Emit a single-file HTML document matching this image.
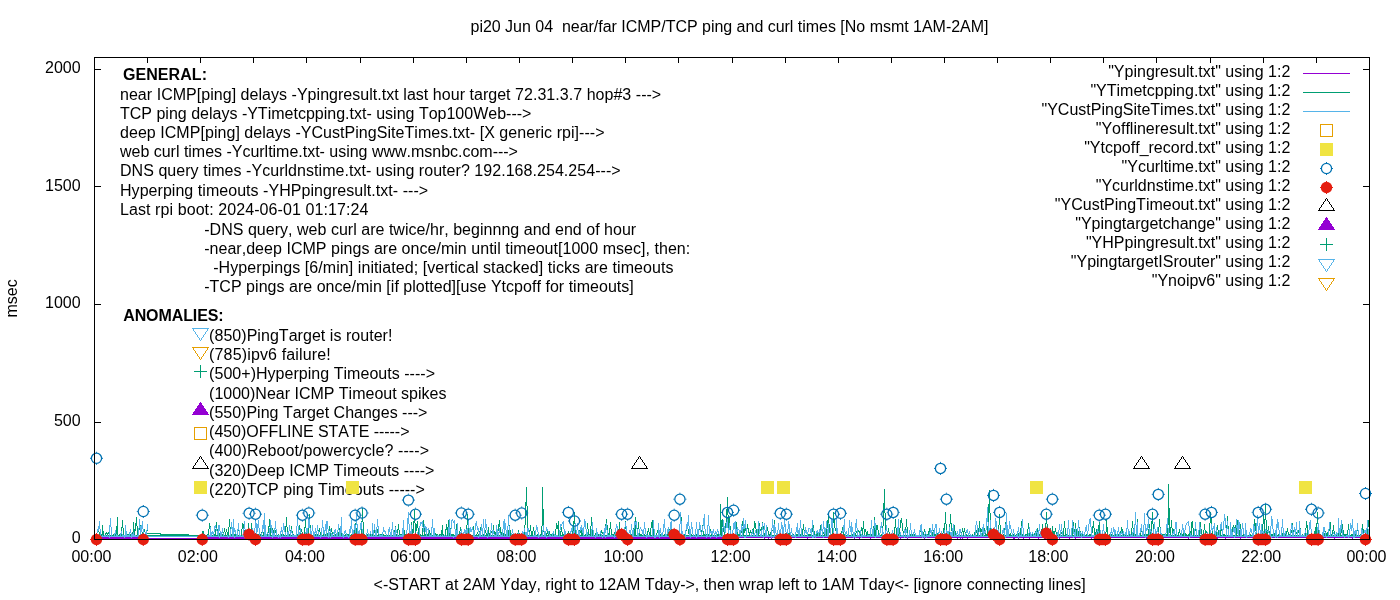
<!DOCTYPE html>
<html lang="en"><head><meta charset="utf-8"><title>pi20 Jun 04 near/far ICMP/TCP ping and curl times</title>
<style>html,body{margin:0;padding:0;background:#fff;}body{width:1400px;height:600px;overflow:hidden;}svg{display:block;}text{font-family:"Liberation Sans",Arial,sans-serif;font-size:16px;fill:#000;font-kerning:none;}.b{font-weight:bold;}.e{text-anchor:end;}.m{text-anchor:middle;}</style></head><body>
<svg width="1400" height="600" viewBox="0 0 1400 600">
<rect x="0" y="0" width="1400" height="600" fill="#ffffff"/>
<g fill="none" stroke-width="1" shape-rendering="crispEdges" stroke-linejoin="miter">
<path stroke="#9400D3" stroke-width="1" d="M95 537.5H148M201 537.5H1369M95 538.5H722M738 538.5h1M764 538.5h1M768 538.5h1M771 538.5h1M807 538.5h1M854 538.5h1M859 538.5h1M870 538.5h1M895 538.5h1M900 538.5h1M907 538.5h1M924 538.5h1M949 538.5h1M957 538.5h1M960 538.5h1M962 538.5h1M967 538.5h1M1004 538.5h1M1013 538.5h1M1014 538.5h1M1018 538.5h1M1023 538.5h1M1029 538.5h1M1038 538.5h1M1044 538.5h1M1045 538.5h1M1059 538.5h1M1069 538.5h1M1075 538.5h1M1091 538.5h1M1109 538.5h1M1146 538.5h1M1153 538.5h1M1160 538.5h1M1188 538.5h1M1206 538.5h1M1217 538.5h1M1225 538.5h1M1240 538.5h1M1262 538.5h1M1308 538.5h1M1322 538.5h1M1334 538.5h1M1352 538.5h1"/>
<path stroke="#009E73" transform="translate(.5 0)" d="M96 533v3M97 530v3M98 528v4M99 532v4M100 534v2M101 534v2M102 525v11M103 531v5M105 533v3M106 532v2M107 533v3M108 532v2M109 534v2M111 534v2M113 534v2M114 534v2M115 534v2M116 526v10M117 517v19M119 534v2M120 534v2M121 527v9M122 520v8M123 528v8M126 534v2M127 534v2M128 534v2M129 534v2M130 534v2M131 534v2M132 532v4M133 522v10M134 529v7M135 523v8M136 517v9M137 526v10M138 530v6M139 524v6M140 525v11M141 534v2M142 532v2M143 532v4M144 529v3M145 532v4M146 531v5M147 528v3M160 533v3M161 534v2M162 534v2M163 534v2M164 534v2M165 534v2M166 534v2M167 534v2M168 534v2M169 534v2M170 534v2M171 534v2M172 534v2M173 534v2M174 534v2M175 534v2M176 534v2M177 534v2M178 534v2M179 534v2M180 534v2M181 534v2M182 534v2M183 534v2M184 534v2M185 534v2M186 534v2M187 534v2M188 534v2M202 531v5M203 531v3M204 534v2M207 534v2M208 529v7M209 523v6M210 526v10M211 534v2M213 534v2M214 534v2M215 529v7M216 522v7M217 529v7M219 533v3M220 532v2M221 534v2M222 534v2M223 532v4M224 528v4M225 532v4M226 529v3M227 532v4M228 527v9M229 519v8M230 527v9M231 534v2M232 534v2M233 534v2M234 534v2M235 534v2M237 531v5M238 527v4M239 531v5M241 529v7M242 523v6M243 524v6M244 530v6M245 534v2M246 534v2M247 529v7M248 523v7M249 530v6M250 529v7M251 523v7M252 530v6M253 534v2M254 534v2M255 533v3M256 531v5M257 534v2M258 534v2M260 534v2M261 532v4M262 528v4M263 532v4M264 534v2M265 534v2M267 533v3M268 526v7M269 519v8M270 527v9M272 528v8M273 530v3M274 532v4M275 530v3M276 533v3M278 534v2M280 534v2M281 534v2M282 534v2M283 534v2M285 526v10M286 517v10M287 527v9M288 534v2M289 534v2M290 530v6M291 526v5M292 531v5M293 534v2M296 534v2M297 534v2M298 530v6M299 525v5M300 530v6M301 529v3M302 532v4M303 534v2M304 527v9M305 520v8M306 528v8M307 530v3M308 524v12M309 514v11M310 525v11M315 534v2M317 534v2M318 530v6M319 528v4M320 532v4M321 534v2M323 534v2M325 534v2M326 530v6M327 533v3M328 529v4M329 526v5M330 531v5M331 528v4M332 532v4M334 531v5M335 534v2M336 534v2M337 534v2M338 532v4M339 528v4M340 529v3M341 532v4M342 534v2M345 534v2M347 534v2M348 534v2M349 534v2M351 534v2M352 533v3M353 530v3M354 529v7M355 523v6M356 528v6M357 534v2M358 534v2M360 534v2M361 521v15M362 508v14M363 522v14M364 534v2M366 534v2M367 534v2M368 534v2M370 534v2M371 534v2M372 532v4M373 533v3M374 530v3M375 533v3M376 532v4M377 529v4M378 533v3M380 534v2M381 534v2M383 534v2M386 534v2M388 534v2M390 534v2M391 534v2M393 534v2M394 530v6M395 526v10M396 534v2M397 529v7M398 524v6M399 530v6M400 534v2M401 534v2M402 534v2M403 524v12M404 530v6M405 534v2M407 534v2M408 534v2M409 534v2M410 534v2M411 522v14M412 529v7M413 521v12M414 510v13M415 523v13M416 524v7M417 521v7M418 528v8M419 534v2M420 534v2M422 528v8M423 520v8M424 528v8M425 534v2M426 534v2M427 534v2M428 532v4M429 530v3M430 533v3M431 534v2M433 531v5M434 528v5M435 533v3M436 534v2M437 534v2M439 534v2M440 534v2M441 530v6M442 525v11M443 534v2M445 529v7M446 524v6M447 527v9M448 520v8M449 520v16M450 528v8M451 534v2M452 534v2M453 534v2M455 530v6M456 524v6M457 530v6M458 534v2M459 531v5M460 527v4M461 531v5M462 534v2M463 534v2M464 534v2M465 534v2M466 525v11M467 514v11M468 525v11M470 534v2M473 526v10M474 531v5M476 534v2M477 532v2M478 534v2M479 531v5M480 527v9M483 534v2M484 532v4M485 530v3M486 533v3M487 531v5M488 527v9M489 533v3M491 531v2M492 530v6M493 525v6M494 531v5M495 532v4M496 530v6M497 531v5M498 524v7M499 520v7M500 527v7M501 532v4M502 529v4M503 533v3M504 534v2M505 534v2M506 532v4M507 528v4M508 530v6M509 525v5M510 530v6M511 534v2M512 534v2M513 534v2M515 534v2M517 533v3M518 530v3M519 533v3M520 534v2M521 534v2M522 534v2M523 534v2M524 525v11M525 502v23M526 487v19M527 506v30M528 529v3M529 530v6M530 525v6M531 531v5M532 531v5M533 527v4M534 531v5M537 534v2M538 534v2M540 534v2M541 526v10M542 487v39M543 509v23M544 532v4M545 534v2M546 533v3M547 531v3M548 533v3M549 531v3M550 534v2M551 534v2M553 534v2M555 529v7M556 523v6M557 525v4M558 521v15M560 531v5M561 527v5M562 532v4M563 534v2M564 534v2M565 534v2M566 534v2M567 533v3M568 531v2M569 533v3M570 534v2M572 531v5M573 521v10M574 512v12M575 524v12M576 534v2M577 534v2M578 532v4M579 530v2M580 530v3M581 525v11M582 531v5M585 534v2M586 529v7M587 523v6M588 529v7M589 534v2M590 526v10M591 517v9M592 526v10M595 533v3M596 531v5M597 534v2M598 534v2M599 534v2M600 533v3M601 530v3M602 532v2M603 534v2M604 531v5M605 524v7M606 519v6M607 525v8M608 533v3M609 528v8M610 522v7M611 529v7M612 534v2M613 534v2M614 532v4M615 530v3M616 532v4M617 530v3M618 529v7M619 522v14M621 534v2M624 528v8M625 521v8M626 529v7M627 534v2M628 534v2M630 534v2M631 534v2M632 532v4M633 528v4M634 526v10M635 517v19M637 528v8M638 522v7M639 529v7M640 534v2M641 534v2M644 534v2M646 534v2M647 531v5M648 528v4M649 532v4M650 528v8M651 522v6M652 520v8M653 528v8M654 534v2M656 533v3M657 530v3M658 525v11M659 530v6M660 534v2M661 534v2M664 534v2M665 534v2M666 534v2M667 534v2M668 532v4M669 529v3M670 530v6M671 525v5M672 530v6M674 534v2M675 532v2M676 534v2M677 534v2M678 531v5M679 524v7M680 518v6M681 517v19M684 534v2M685 531v5M686 526v5M687 524v5M688 529v5M689 534v2M691 534v2M693 534v2M695 534v2M696 534v2M697 533v3M698 530v3M699 527v3M700 525v5M701 530v6M702 525v6M703 531v5M704 534v2M705 534v2M706 534v2M707 534v2M708 534v2M709 532v4M710 529v3M711 532v4M712 533v3M713 530v3M714 533v3M717 534v2M718 534v2M720 504v32M721 520v16M722 519v8M723 524v8M724 530v6M725 523v7M726 509v14M727 497v18M728 515v21M729 517v9M730 526v10M731 534v2M732 534v2M733 534v2M735 529v7M736 522v7M737 529v7M738 534v2M739 534v2M740 533v3M741 526v7M742 521v5M743 525v11M744 528v5M745 526v5M746 529v7M747 524v5M748 528v5M749 532v4M750 530v3M751 532v4M752 529v4M753 528v8M754 521v7M755 523v6M756 529v5M757 534v2M758 529v7M759 523v6M760 529v2M761 527v5M762 522v5M763 526v7M764 533v3M766 531v5M767 527v4M768 531v5M769 534v2M770 532v4M771 529v3M773 525v5M774 520v16M777 534v2M778 534v2M779 534v2M780 534v2M781 534v2M782 529v7M783 531v3M784 534v2M785 533v3M786 532v2M787 534v2M788 533v3M789 531v5M792 534v2M793 534v2M795 534v2M796 534v2M797 534v2M798 534v2M799 534v2M800 534v2M802 529v7M803 524v6M804 530v6M808 534v2M809 534v2M810 534v2M811 532v4M812 528v4M813 525v11M814 531v5M815 534v2M816 534v2M817 533v3M818 532v2M819 531v5M820 525v6M821 524v6M822 530v6M823 532v2M824 534v2M826 528v8M827 520v8M828 515v9M829 524v9M830 533v3M831 534v2M832 523v13M833 512v11M834 519v9M835 528v3M836 527v9M838 534v2M841 531v5M842 527v5M843 532v4M844 534v2M845 534v2M847 534v2M848 534v2M851 532v4M852 534v2M853 534v2M854 534v2M855 533v3M856 531v2M857 532v4M858 530v2M859 531v5M860 531v5M861 527v4M862 528v8M863 521v8M864 529v7M865 529v3M866 532v4M867 531v5M868 534v2M869 534v2M871 534v2M873 526v10M874 517v19M875 530v6M876 525v5M877 525v5M878 530v6M879 534v2M881 534v2M882 526v10M883 503v23M884 489v24M885 513v23M887 531v5M888 528v4M889 532v4M890 534v2M891 534v2M892 534v2M893 534v2M894 527v9M895 519v9M896 528v8M897 527v4M898 531v5M899 528v8M900 520v8M901 518v5M902 523v8M903 531v5M904 530v3M905 527v9M906 519v8M907 527v9M910 534v2M911 534v2M912 534v2M913 534v2M914 534v2M915 534v2M919 532v4M920 528v4M921 527v9M923 532v4M924 529v3M925 532v4M927 534v2M928 531v5M929 528v8M930 530v3M931 533v3M932 532v4M933 530v3M934 533v3M935 534v2M936 531v5M937 533v3M938 534v2M941 534v2M942 533v3M943 528v5M944 523v13M945 512v12M946 524v12M947 531v3M948 534v2M949 524v12M950 514v10M951 523v8M952 529v7M953 530v6M954 525v6M955 531v5M958 534v2M959 534v2M961 532v4M962 528v4M963 531v5M964 528v4M965 532v4M966 534v2M968 534v2M972 534v2M974 532v4M975 529v7M976 530v3M977 533v3M978 528v8M979 521v7M980 528v8M981 529v3M982 531v5M983 528v8M984 528v4M985 532v4M986 534v2M987 526v10M988 504v22M989 490v23M990 513v23M991 532v4M992 534v2M993 534v2M996 534v2M997 534v2M998 525v11M999 514v11M1000 525v11M1001 534v2M1003 534v2M1004 528v8M1005 522v7M1006 529v7M1007 534v2M1008 534v2M1009 534v2M1010 533v3M1011 531v2M1012 533v3M1013 534v2M1014 534v2M1016 534v2M1017 534v2M1018 533v3M1019 532v2M1020 528v8M1021 521v15M1022 534v2M1023 534v2M1025 534v2M1026 534v2M1027 529v7M1028 523v6M1029 528v8M1030 532v4M1031 534v2M1032 534v2M1034 533v3M1035 531v3M1036 532v4M1037 528v8M1039 534v2M1041 529v7M1042 524v6M1043 530v6M1044 530v6M1045 523v13M1046 512v12M1047 524v12M1048 534v2M1049 531v5M1050 528v4M1051 532v4M1052 526v10M1053 531v5M1054 531v5M1055 528v4M1056 532v4M1059 534v2M1060 534v2M1061 532v2M1062 534v2M1063 528v8M1064 521v7M1065 528v8M1066 534v2M1067 534v2M1069 534v2M1071 534v2M1072 528v8M1073 522v7M1074 529v7M1075 523v13M1076 529v7M1077 534v2M1078 531v5M1079 527v4M1080 531v5M1081 534v2M1082 534v2M1083 534v2M1086 534v2M1089 534v2M1090 534v2M1091 533v3M1092 526v7M1093 521v7M1094 528v8M1095 532v4M1096 529v3M1097 531v5M1098 525v6M1099 522v14M1100 534v2M1101 534v2M1102 534v2M1103 534v2M1104 534v2M1105 532v4M1106 519v13M1107 527v9M1109 534v2M1111 534v2M1112 534v2M1114 534v2M1115 534v2M1116 534v2M1117 534v2M1118 534v2M1119 534v2M1120 531v5M1121 527v4M1122 529v5M1123 534v2M1124 534v2M1125 534v2M1126 534v2M1129 534v2M1130 534v2M1131 528v8M1132 521v7M1133 528v8M1134 534v2M1135 534v2M1136 527v9M1137 519v17M1139 534v2M1140 531v5M1141 527v5M1142 532v4M1144 534v2M1145 534v2M1146 534v2M1147 534v2M1148 529v7M1149 524v6M1150 530v6M1151 521v11M1152 512v12M1153 524v12M1154 534v2M1155 534v2M1156 534v2M1157 534v2M1158 527v9M1159 519v8M1160 527v9M1162 534v2M1163 534v2M1164 534v2M1165 534v2M1166 534v2M1167 525v11M1168 484v41M1169 508v25M1170 527v9M1171 520v8M1172 528v8M1173 529v3M1174 532v4M1175 534v2M1178 532v4M1179 529v4M1180 533v3M1182 534v2M1183 533v3M1184 530v3M1185 533v3M1186 534v2M1188 534v2M1189 533v3M1190 531v3M1191 522v14M1192 521v7M1193 528v8M1194 531v5M1195 527v4M1196 531v5M1198 534v2M1199 529v7M1200 522v7M1201 529v7M1202 534v2M1203 530v6M1204 524v6M1205 530v6M1206 531v2M1207 533v3M1208 534v2M1209 523v13M1210 512v11M1211 517v11M1212 528v8M1214 534v2M1215 534v2M1216 530v6M1217 525v5M1218 530v6M1219 534v2M1220 530v6M1221 525v6M1222 531v5M1223 534v2M1224 534v2M1226 525v11M1227 516v10M1228 526v10M1231 532v4M1232 527v5M1233 525v3M1234 527v3M1235 525v5M1236 527v9M1237 520v8M1238 528v8M1239 530v6M1240 524v6M1241 530v6M1243 534v2M1245 534v2M1246 534v2M1250 534v2M1253 527v9M1254 519v8M1255 523v8M1256 531v5M1257 534v2M1258 534v2M1260 534v2M1261 534v2M1262 524v12M1263 513v11M1264 519v17M1265 504v16M1266 520v16M1267 530v6M1268 526v5M1269 531v5M1271 534v2M1272 534v2M1273 534v2M1274 533v3M1275 531v2M1276 532v4M1278 534v2M1279 534v2M1282 533v3M1283 531v3M1284 534v2M1285 534v2M1286 531v5M1287 528v4M1288 532v4M1289 534v2M1290 533v3M1291 530v3M1292 523v7M1293 530v6M1295 534v2M1296 532v2M1297 532v4M1298 530v3M1299 521v15M1300 528v8M1302 534v2M1305 528v8M1306 521v7M1307 525v11M1308 531v5M1309 534v2M1310 534v2M1311 534v2M1312 534v2M1313 534v2M1314 531v5M1315 527v9M1316 523v13M1317 512v12M1318 524v12M1319 534v2M1320 534v2M1322 534v2M1323 530v6M1324 533v3M1325 531v2M1326 533v3M1327 532v4M1328 529v3M1329 526v5M1330 522v14M1331 534v2M1332 530v6M1333 525v6M1334 531v5M1335 534v2M1337 534v2M1338 533v3M1339 531v3M1340 533v3M1341 527v6M1342 524v6M1343 530v6M1344 534v2M1345 534v2M1346 534v2M1347 530v6M1348 524v6M1349 530v6M1351 534v2M1352 534v2M1354 534v2M1355 534v2M1356 531v5M1357 527v4M1358 531v5M1360 534v2M1361 530v6M1362 524v6M1363 529v5M1364 534v2M1365 534v2M1366 534v2M1367 527v9M1368 520v7M1369 527v6"/>
<path stroke="#009E73" transform="translate(0 .5)" d="M94 534h2M97 535h2M104 535h1M106 535h1M108 535h1M110 535h1M112 535h1M118 535h1M122 535h1M124 535h2M133 535h1M135 535h2M139 535h1M142 535h1M144 535h1M147 535h13M189 535h13M203 535h1M205 535h2M209 535h1M212 535h1M216 535h1M218 535h1M220 535h1M224 535h1M226 535h1M229 535h1M236 535h1M238 535h1M240 535h1M242 535h2M248 535h1M251 535h1M259 535h1M262 535h1M266 535h1M268 535h2M271 535h1M273 535h1M275 535h1M277 535h1M279 535h1M284 535h1M286 535h1M291 535h1M294 535h2M299 535h1M301 535h1M305 535h1M307 535h1M309 535h1M311 535h4M316 535h1M319 535h1M322 535h1M324 535h1M328 535h2M331 535h1M333 535h1M339 535h2M343 535h2M346 535h1M350 535h1M353 535h1M355 535h2M359 535h1M362 535h1M365 535h1M369 535h1M374 535h1M377 535h1M379 535h1M382 535h1M384 535h2M387 535h1M389 535h1M392 535h1M398 535h1M406 535h1M413 535h2M416 535h2M421 535h1M423 535h1M429 535h1M432 535h1M434 535h1M438 535h1M444 535h1M446 535h1M448 535h1M454 535h1M456 535h1M460 535h1M467 535h1M469 535h1M471 535h2M475 535h1M477 535h1M481 535h2M485 535h1M490 535h2M493 535h1M498 535h3M502 535h1M507 535h1M509 535h1M514 535h1M516 535h1M518 535h1M525 535h2M528 535h1M530 535h1M533 535h1M535 535h2M539 535h1M542 535h2M547 535h1M549 535h1M552 535h1M554 535h1M556 535h2M559 535h1M561 535h1M568 535h1M571 535h1M573 535h2M579 535h2M583 535h2M587 535h1M591 535h1M593 535h2M601 535h2M605 535h3M610 535h1M615 535h1M617 535h1M620 535h1M622 535h2M625 535h1M629 535h1M633 535h1M636 535h1M638 535h1M642 535h2M645 535h1M648 535h1M651 535h2M655 535h1M657 535h1M662 535h2M669 535h1M671 535h1M673 535h1M675 535h1M679 535h2M682 535h2M686 535h3M690 535h1M692 535h1M694 535h1M698 535h3M702 535h1M710 535h1M713 535h1M715 535h2M719 535h1M722 535h2M725 535h3M729 535h1M734 535h1M736 535h1M741 535h2M744 535h2M747 535h2M750 535h1M752 535h1M754 535h3M759 535h5M765 535h1M767 535h1M771 535h3M775 535h2M783 535h1M786 535h1M790 535h2M794 535h1M801 535h1M803 535h1M805 535h3M812 535h1M818 535h1M820 535h2M823 535h1M825 535h1M827 535h3M833 535h3M837 535h1M839 535h2M842 535h1M846 535h1M849 535h2M856 535h1M858 535h1M861 535h1M863 535h1M865 535h1M870 535h1M872 535h1M876 535h2M880 535h1M883 535h2M886 535h1M888 535h1M895 535h1M897 535h1M900 535h3M904 535h1M906 535h1M908 535h2M916 535h3M920 535h1M922 535h1M924 535h1M926 535h1M930 535h1M933 535h1M939 535h2M943 535h1M945 535h1M947 535h1M950 535h2M954 535h1M956 535h2M960 535h1M962 535h1M964 535h1M967 535h1M969 535h3M973 535h1M976 535h1M979 535h1M981 535h1M984 535h1M988 535h2M994 535h2M999 535h1M1002 535h1M1005 535h1M1011 535h1M1015 535h1M1019 535h1M1024 535h1M1028 535h1M1033 535h1M1035 535h1M1038 535h1M1040 535h1M1042 535h1M1046 535h1M1050 535h1M1055 535h1M1057 535h2M1061 535h1M1064 535h1M1068 535h1M1070 535h1M1073 535h1M1079 535h1M1084 535h2M1087 535h2M1092 535h2M1096 535h1M1098 535h1M1106 535h1M1108 535h1M1110 535h1M1113 535h1M1121 535h2M1127 535h2M1132 535h1M1138 535h1M1141 535h1M1143 535h1M1149 535h1M1151 535h2M1159 535h1M1161 535h1M1168 535h2M1171 535h1M1173 535h1M1176 535h2M1179 535h1M1181 535h1M1184 535h1M1187 535h1M1190 535h1M1192 535h1M1195 535h1M1197 535h1M1200 535h1M1204 535h1M1206 535h1M1210 535h2M1213 535h1M1217 535h1M1221 535h1M1225 535h1M1227 535h1M1229 535h2M1232 535h4M1237 535h1M1240 535h1M1242 535h1M1244 535h1M1247 535h3M1251 535h2M1254 535h2M1259 535h1M1263 535h1M1265 535h1M1268 535h1M1270 535h1M1275 535h1M1277 535h1M1280 535h2M1283 535h1M1287 535h1M1291 535h2M1294 535h1M1296 535h1M1298 535h1M1301 535h1M1303 535h2M1306 535h1M1317 535h1M1321 535h1M1325 535h1M1328 535h2M1333 535h1M1336 535h1M1339 535h1M1341 535h2M1348 535h1M1350 535h1M1353 535h1M1357 535h1M1359 535h1M1362 535h2M1368 535h1M147 533h13M333 532h1M490 532h1M772 530h1"/>
<path stroke="#56B4E9" transform="translate(.5 0)" d="M96 533v4M97 529v4M98 526v5M99 521v8M100 529v8M102 535v2M104 535v2M105 535v2M107 535v2M109 525v13M110 518v9M111 527v10M114 533v4M115 530v4M116 534v3M117 535v2M120 533v4M121 531v3M122 534v3M123 535v2M124 535v3M125 525v12M126 531v6M127 535v2M128 535v2M129 532v5M130 529v4M131 533v5M132 534v3M133 532v5M134 535v2M135 535v2M137 535v2M138 528v9M139 519v9M140 526v11M141 525v7M142 521v8M143 529v8M144 534v3M145 532v2M146 530v7M147 524v6M202 535v2M205 535v2M207 535v2M208 535v2M209 535v2M210 527v10M211 532v5M212 531v3M213 532v5M214 526v6M215 525v3M216 528v3M217 531v4M218 525v12M219 525v6M219 536v2M220 531v6M221 532v5M222 528v5M223 533v4M227 535v2M228 536v2M229 535v2M230 529v8M231 522v7M232 527v10M233 519v18M234 528v4M234 536v2M235 530v4M236 534v3M237 529v8M238 523v7M239 530v7M240 535v2M242 535v2M243 528v9M244 521v8M244 536v2M245 529v8M246 535v2M247 535v2M248 535v2M249 534v3M250 531v3M251 532v5M252 528v4M253 532v5M254 528v9M255 520v8M255 536v2M256 523v14M257 524v8M257 536v2M258 520v8M259 528v9M261 533v4M262 525v8M263 520v9M264 513v24M265 525v12M266 534v3M267 532v2M268 534v3M269 528v9M270 520v8M271 525v8M272 530v8M273 533v4M274 528v9M275 521v8M276 529v8M278 535v3M279 535v2M280 531v7M281 527v5M282 530v7M283 523v7M284 526v6M285 532v5M287 532v5M288 531v6M289 525v6M290 531v6M291 529v4M292 533v4M293 535v2M294 535v2M295 535v2M296 526v11M297 516v10M298 526v12M299 532v5M300 528v5M301 533v4M302 536v2M305 532v5M306 528v5M307 528v9M308 519v9M308 536v2M309 519v9M310 528v9M311 531v6M312 525v6M313 531v6M314 532v5M315 528v5M316 531v6M317 525v6M318 531v6M320 535v3M321 528v9M322 520v8M323 527v7M324 530v7M325 524v7M326 521v16M327 521v8M328 529v9M329 532v5M330 529v4M330 536v2M331 533v4M332 534v3M333 532v2M334 530v7M335 529v4M336 533v4M337 530v7M338 524v6M339 530v7M340 526v11M341 517v16M342 533v4M343 534v4M344 531v3M345 530v3M346 533v4M347 535v2M348 536v2M349 529v8M350 526v7M351 520v9M352 529v8M353 530v7M354 524v6M355 525v12M356 514v11M357 524v13M358 531v6M359 530v7M360 523v7M361 522v7M362 529v8M363 535v2M364 535v3M366 533v4M367 529v4M368 533v4M369 534v3M370 531v3M371 534v3M372 523v11M373 530v7M374 524v6M375 530v7M376 527v10M377 519v8M378 526v8M379 534v3M380 535v2M381 535v2M382 532v5M383 527v5M384 530v2M385 531v3M386 534v3M388 529v8M389 527v5M390 532v5M391 529v8M392 522v8M393 530v7M394 532v5M395 527v10M396 530v3M397 533v4M399 535v2M400 535v2M401 535v2M402 528v9M403 520v17M406 530v8M407 518v12M408 512v12M409 524v13M410 531v6M411 525v12M415 535v2M416 534v3M417 532v3M418 535v3M419 526v11M420 522v4M421 522v2M422 521v6M423 527v5M424 524v4M425 526v6M426 527v10M428 528v5M429 533v4M430 535v2M431 527v10M432 519v9M433 528v9M434 528v9M435 535v2M437 535v2M438 535v2M440 535v2M442 535v2M444 535v2M446 535v2M448 527v10M449 519v14M450 529v8M451 520v9M452 519v2M453 521v2M453 536v2M454 520v9M455 529v8M456 530v7M457 523v14M458 535v2M459 535v2M460 532v5M461 529v4M462 533v4M463 532v5M464 529v4M465 530v7M466 529v4M466 536v2M467 528v9M468 519v9M469 528v9M470 527v5M470 536v2M471 529v3M472 527v3M473 530v7M474 530v7M475 523v7M476 521v5M477 526v4M478 528v4M478 536v2M479 532v5M480 530v7M481 524v7M482 528v9M483 519v9M484 528v9M485 519v9M486 524v6M487 530v4M487 536v2M488 534v3M490 530v7M491 523v7M492 530v7M493 530v4M494 534v3M495 535v2M496 525v12M497 529v6M498 532v5M499 528v5M500 533v4M501 535v2M502 529v8M503 521v8M504 519v18M505 523v7M506 530v7M507 526v11M508 515v11M509 526v11M511 533v4M512 529v4M513 533v4M514 535v2M515 535v2M516 535v2M517 534v3M518 532v2M519 534v3M521 534v3M522 531v3M523 532v5M524 528v4M525 532v5M526 532v6M527 528v9M528 528v4M529 532v5M533 535v2M534 535v2M535 530v7M536 525v5M537 527v5M538 532v6M539 535v2M541 535v2M542 530v7M543 525v6M544 531v6M545 531v6M546 527v4M546 536v2M547 529v2M548 531v3M549 534v3M550 535v2M552 533v4M553 531v3M554 534v3M555 535v2M556 535v2M557 535v2M559 530v7M560 524v6M561 524v2M562 522v2M563 521v8M564 529v8M565 531v6M566 534v3M567 535v2M568 535v2M569 534v4M570 531v3M571 528v4M572 525v6M573 531v6M574 528v6M574 536v2M575 523v7M576 530v7M577 523v7M578 530v7M579 531v6M580 527v4M581 525v5M582 528v5M583 527v10M584 519v8M585 521v8M586 529v8M587 532v3M588 535v2M589 535v2M591 529v8M592 522v8M593 530v7M595 535v3M596 528v9M597 532v5M599 534v3M600 531v3M601 534v3M602 536v2M603 532v5M604 528v9M605 526v7M605 536v2M606 523v7M607 530v7M608 535v2M609 535v2M610 535v2M611 535v2M612 535v2M614 534v4M615 528v6M616 524v4M617 526v6M618 532v5M619 531v6M620 534v3M621 535v2M623 534v3M624 527v7M625 522v5M626 526v6M627 532v5M628 533v4M629 530v3M630 530v7M631 524v6M632 530v7M633 529v8M634 521v8M635 522v3M636 521v8M637 529v8M638 533v4M639 529v4M640 527v2M641 529v2M642 530v4M643 529v8M644 522v7M645 528v6M646 534v4M647 535v2M648 535v2M649 535v2M652 528v9M653 520v9M654 529v9M655 535v3M656 535v2M657 535v2M658 523v14M659 530v8M660 528v5M661 533v4M662 532v5M663 524v8M664 519v9M665 528v9M666 534v3M667 529v5M668 527v5M669 530v7M670 522v8M671 521v8M672 529v8M673 531v2M674 531v6M677 535v2M679 524v13M680 512v12M681 521v16M682 531v3M683 534v3M685 530v8M686 524v6M687 522v7M688 515v11M689 526v11M690 529v9M691 522v7M692 527v7M693 534v3M695 529v8M696 522v7M696 536v2M697 529v8M698 529v8M699 522v7M700 525v7M701 532v5M702 526v6M703 518v8M704 514v15M705 529v6M706 535v3M707 525v12M708 515v11M709 526v11M710 531v2M710 536v2M711 531v3M712 531v6M713 529v4M714 533v4M715 531v3M716 532v6M717 529v3M718 531v3M719 534v3M720 535v2M722 528v9M723 520v8M724 526v6M725 528v5M726 522v6M727 519v9M728 528v9M729 523v7M730 530v7M732 530v7M733 523v7M733 536v2M734 522v7M735 521v16M736 529v8M737 527v5M738 536v2M739 530v4M740 530v7M741 524v7M742 527v10M743 518v11M744 524v5M744 536v2M745 520v8M745 536v2M746 528v9M750 535v2M751 533v4M752 530v4M753 534v3M754 533v4M755 530v3M756 533v4M757 529v8M758 521v8M759 526v8M760 534v3M761 530v7M762 523v7M763 529v9M764 523v7M765 530v7M766 525v12M767 535v2M768 535v2M770 535v2M771 528v10M772 519v9M773 525v8M773 536v2M774 524v13M775 527v6M776 533v4M777 530v7M778 523v7M779 530v7M780 529v8M781 522v7M782 525v12M783 527v10M784 519v8M785 524v8M786 532v5M787 529v8M788 521v8M789 524v9M790 532v5M791 528v5M792 533v4M793 535v2M794 535v2M795 532v6M796 527v5M797 523v10M798 530v7M799 528v9M800 520v8M801 528v9M802 535v2M804 531v6M805 527v6M806 530v4M807 532v5M808 528v4M810 529v4M811 528v9M812 520v8M812 536v2M813 528v10M814 535v2M815 534v4M816 531v3M817 530v3M818 532v5M819 529v4M820 530v7M821 524v7M822 529v8M823 521v8M823 536v2M824 527v7M825 528v9M826 521v8M827 529v8M828 523v14M830 528v9M831 519v9M832 520v8M832 536v2M833 528v9M836 519v19M837 528v9M838 535v2M840 535v2M841 533v4M842 530v3M843 525v7M844 519v13M844 536v2M845 532v5M846 531v3M847 534v3M848 528v9M849 520v8M850 526v6M851 522v15M852 527v5M853 532v6M854 532v5M855 523v9M855 536v2M856 519v9M857 528v9M858 535v2M859 533v4M860 530v4M861 534v4M862 535v2M863 535v2M864 535v2M865 535v2M867 535v2M868 535v2M869 535v2M870 528v9M871 520v9M872 529v8M873 528v9M874 520v8M875 523v7M875 536v2M876 530v7M877 535v2M878 535v2M879 533v4M880 526v7M881 522v6M882 528v9M883 532v2M884 534v3M885 530v7M886 525v6M887 531v7M888 535v2M889 535v2M890 535v2M891 533v4M892 530v3M893 533v4M895 535v3M896 535v2M897 527v10M898 519v15M899 534v3M900 532v3M901 535v2M902 535v2M903 533v4M904 529v4M904 536v2M905 530v7M906 529v4M907 533v5M908 535v2M909 530v7M910 523v7M911 530v7M913 532v5M914 529v4M915 533v4M916 535v2M917 535v2M918 535v2M919 530v7M920 525v6M921 524v13M922 531v7M923 535v2M924 534v4M925 531v3M926 534v4M927 535v2M928 535v2M929 532v5M930 528v5M931 530v7M932 524v7M933 531v6M934 528v6M935 524v4M936 524v13M937 535v2M938 532v5M939 528v5M940 533v4M941 531v3M942 534v3M944 530v7M945 533v4M946 530v3M947 531v3M948 531v6M949 527v5M950 532v5M951 532v5M952 528v9M953 524v7M954 531v6M955 535v2M956 533v4M957 531v3M958 534v3M959 529v8M960 529v4M961 533v4M962 535v2M964 535v2M965 533v4M966 530v3M967 529v4M968 533v4M969 531v3M970 534v3M971 535v2M973 535v2M974 535v2M975 525v12M976 521v4M977 525v8M978 532v5M979 528v4M980 532v5M981 533v4M982 527v6M983 524v13M984 531v3M985 530v3M986 518v12M987 507v15M988 522v15M989 528v9M990 520v8M991 528v5M992 533v4M993 535v2M994 527v10M995 518v9M996 521v9M997 530v8M998 529v8M999 532v2M1000 534v3M1001 534v3M1002 530v4M1003 528v5M1004 530v7M1005 524v6M1005 536v2M1006 513v24M1007 525v12M1008 529v8M1009 521v8M1010 525v4M1011 529v4M1012 533v4M1013 529v4M1014 533v4M1016 535v2M1017 531v6M1018 527v5M1018 536v2M1019 532v5M1020 535v2M1021 526v11M1022 519v9M1023 528v9M1024 535v2M1026 535v2M1028 533v4M1029 527v6M1030 532v5M1031 534v3M1032 532v2M1033 534v3M1034 535v2M1035 532v5M1036 529v4M1037 532v5M1038 530v7M1039 524v7M1040 531v6M1041 535v2M1042 535v2M1043 535v2M1044 535v2M1045 535v2M1047 535v2M1048 535v2M1049 535v3M1050 536v2M1052 535v2M1054 535v2M1056 534v3M1057 532v3M1058 530v8M1059 524v6M1060 530v7M1061 524v7M1062 531v6M1066 535v2M1067 528v9M1068 520v9M1069 529v8M1070 535v2M1071 528v9M1072 520v8M1073 526v8M1073 536v2M1074 532v5M1075 528v9M1077 528v9M1078 520v8M1079 528v9M1080 532v2M1081 533v5M1082 531v3M1083 534v3M1084 532v5M1085 527v5M1086 525v6M1087 531v6M1088 524v7M1089 519v5M1090 518v9M1091 527v10M1092 535v2M1093 535v2M1094 535v2M1095 535v2M1096 532v5M1097 529v3M1098 531v3M1099 533v4M1100 530v4M1101 534v3M1102 530v7M1103 524v7M1104 531v6M1106 535v2M1107 535v2M1108 535v2M1109 536v2M1110 532v5M1111 528v5M1112 532v5M1113 527v5M1114 529v8M1115 530v4M1116 534v3M1117 531v6M1118 527v5M1119 532v5M1120 533v4M1121 531v3M1122 533v4M1123 531v3M1124 534v3M1125 532v3M1126 528v9M1127 520v9M1128 529v8M1129 531v3M1130 534v3M1131 535v2M1132 532v5M1133 529v4M1134 524v13M1135 512v13M1136 525v12M1137 522v15M1138 535v2M1139 533v4M1140 528v5M1141 524v7M1142 531v6M1143 525v12M1144 513v12M1145 524v14M1146 528v3M1147 524v6M1148 519v9M1149 528v9M1150 529v3M1151 531v4M1152 535v2M1153 529v8M1154 522v7M1155 529v8M1156 531v6M1157 527v5M1158 532v5M1159 534v3M1160 528v6M1160 536v2M1161 533v4M1163 535v2M1164 535v2M1165 533v4M1166 524v9M1167 518v10M1168 528v9M1169 534v3M1170 535v2M1172 533v4M1173 531v3M1174 529v8M1175 522v7M1176 522v15M1179 535v2M1180 535v2M1181 530v7M1182 524v6M1183 528v5M1184 530v7M1185 525v5M1186 523v2M1188 521v5M1189 526v7M1189 536v2M1190 533v4M1191 535v2M1192 535v2M1194 529v8M1195 522v7M1196 529v8M1198 530v7M1199 522v8M1200 527v7M1201 534v3M1203 535v2M1204 535v2M1205 535v2M1206 535v2M1207 532v5M1208 535v2M1209 535v2M1210 530v7M1211 524v6M1212 528v3M1213 526v3M1214 523v11M1215 531v6M1216 527v5M1217 532v5M1218 535v2M1219 530v7M1220 524v6M1221 522v7M1222 529v8M1223 521v9M1224 514v7M1225 518v10M1226 528v9M1227 521v8M1228 529v8M1229 535v2M1230 522v15M1231 529v8M1232 532v5M1233 527v5M1234 528v5M1234 536v2M1235 528v9M1236 519v9M1237 525v9M1238 520v17M1239 522v7M1240 529v8M1241 529v8M1242 523v6M1243 528v6M1244 534v3M1245 523v14M1246 530v8M1247 535v2M1249 532v5M1250 528v4M1251 529v4M1252 533v4M1253 524v13M1254 526v6M1255 532v6M1256 523v10M1257 515v11M1258 526v11M1259 523v7M1260 530v7M1261 524v13M1262 531v2M1263 531v3M1264 533v4M1265 529v4M1268 530v3M1269 533v4M1270 526v11M1271 516v10M1271 536v2M1272 519v10M1273 529v8M1275 530v8M1276 524v13M1277 519v9M1277 536v2M1278 522v8M1279 530v7M1280 535v2M1281 527v10M1282 519v9M1283 528v9M1284 533v4M1285 531v3M1286 534v3M1287 535v2M1288 535v2M1289 535v2M1290 529v8M1291 523v6M1292 525v12M1293 532v5M1294 527v5M1295 529v8M1296 522v8M1297 530v7M1299 521v16M1300 529v8M1301 535v2M1302 535v2M1303 535v2M1304 533v4M1305 530v3M1306 533v4M1307 535v2M1308 530v7M1309 522v8M1310 520v9M1311 529v8M1312 535v2M1316 534v4M1317 527v7M1317 536v2M1318 523v7M1319 530v7M1320 535v2M1321 535v2M1322 532v5M1323 527v10M1324 527v5M1325 532v5M1326 536v2M1328 529v8M1329 522v7M1330 529v8M1332 534v3M1333 532v2M1334 534v3M1335 534v3M1336 532v3M1337 533v4M1338 518v15M1339 528v9M1340 525v8M1341 520v9M1342 529v8M1343 535v2M1344 536v2M1346 535v2M1347 535v2M1348 535v3M1349 529v8M1350 523v6M1351 525v6M1352 519v9M1353 528v10M1354 531v7M1355 530v4M1356 530v7M1357 523v7M1358 530v7M1360 535v2M1361 528v9M1362 530v4M1363 533v4M1364 530v3M1365 530v4M1365 536v2M1366 528v9M1367 520v9M1368 529v8M1369 523v7"/>
<path stroke="#56B4E9" transform="translate(0 .5)" d="M94 535h1M95 536h1M97 536h3M101 536h1M103 536h1M106 536h1M108 536h1M110 536h1M112 536h2M115 536h1M118 536h2M121 536h1M130 536h1M136 536h1M139 536h1M141 536h2M145 536h1M147 536h55M203 536h2M206 536h1M212 536h1M214 536h4M222 536h1M224 536h3M231 536h1M235 536h1M238 536h1M241 536h1M250 536h1M252 536h1M258 536h1M260 536h1M262 536h2M267 536h1M270 536h2M275 536h1M277 536h1M281 536h1M283 536h2M286 536h1M289 536h1M291 536h1M297 536h1M300 536h1M303 536h2M306 536h1M309 536h1M312 536h1M315 536h1M317 536h1M319 536h1M322 536h2M325 536h1M327 536h1M333 536h1M335 536h1M338 536h1M341 536h1M344 536h2M350 536h2M354 536h1M356 536h1M360 536h2M365 536h1M367 536h1M370 536h1M372 536h1M374 536h1M377 536h2M383 536h3M387 536h1M389 536h1M392 536h1M396 536h1M398 536h1M404 536h2M407 536h2M412 536h3M417 536h1M420 536h6M427 536h2M432 536h1M436 536h1M439 536h1M441 536h1M443 536h1M445 536h1M447 536h1M449 536h1M451 536h2M454 536h1M461 536h1M464 536h1M468 536h1M471 536h2M475 536h3M481 536h1M483 536h1M485 536h2M489 536h1M491 536h1M493 536h1M497 536h1M499 536h1M503 536h1M505 536h1M508 536h1M510 536h1M512 536h1M518 536h1M520 536h1M522 536h1M524 536h1M528 536h1M530 536h3M536 536h2M540 536h1M543 536h1M547 536h2M551 536h1M553 536h1M558 536h1M560 536h4M570 536h3M575 536h1M577 536h1M580 536h3M584 536h2M587 536h1M590 536h1M592 536h1M594 536h1M598 536h1M600 536h1M606 536h1M613 536h1M615 536h3M622 536h1M624 536h3M629 536h1M631 536h1M634 536h3M639 536h4M644 536h2M650 536h2M653 536h1M660 536h1M663 536h2M667 536h2M670 536h2M673 536h1M675 536h2M678 536h1M680 536h1M682 536h1M684 536h1M686 536h3M691 536h2M694 536h1M699 536h2M702 536h4M708 536h1M711 536h1M713 536h1M715 536h1M717 536h2M721 536h1M723 536h5M729 536h1M731 536h1M734 536h1M737 536h1M739 536h1M741 536h1M743 536h1M747 536h3M752 536h1M755 536h1M758 536h2M762 536h1M764 536h1M769 536h1M772 536h1M775 536h1M778 536h1M781 536h1M784 536h2M788 536h2M791 536h1M796 536h2M800 536h1M803 536h1M805 536h2M808 536h3M816 536h2M819 536h1M821 536h1M824 536h1M826 536h1M829 536h1M831 536h1M834 536h2M839 536h1M842 536h2M846 536h1M849 536h2M852 536h1M856 536h1M860 536h1M866 536h1M871 536h1M874 536h1M880 536h2M883 536h1M886 536h1M892 536h1M894 536h1M898 536h1M900 536h1M906 536h1M910 536h1M912 536h1M914 536h1M920 536h1M925 536h1M930 536h1M932 536h1M934 536h2M939 536h1M941 536h1M943 536h1M946 536h2M949 536h1M953 536h1M957 536h1M960 536h1M963 536h1M966 536h2M969 536h1M972 536h1M976 536h2M979 536h1M982 536h1M984 536h4M990 536h2M995 536h2M999 536h1M1002 536h2M1009 536h3M1013 536h1M1015 536h1M1022 536h1M1025 536h1M1027 536h1M1029 536h1M1032 536h1M1036 536h1M1039 536h1M1046 536h1M1051 536h1M1053 536h1M1055 536h1M1057 536h1M1059 536h1M1061 536h1M1063 536h3M1068 536h1M1072 536h1M1076 536h1M1078 536h1M1080 536h1M1082 536h1M1085 536h2M1088 536h3M1097 536h2M1100 536h1M1103 536h1M1105 536h1M1111 536h1M1113 536h1M1115 536h1M1118 536h1M1121 536h1M1123 536h1M1125 536h1M1127 536h1M1129 536h1M1133 536h1M1135 536h1M1140 536h2M1144 536h1M1146 536h3M1150 536h2M1154 536h1M1157 536h1M1162 536h1M1166 536h2M1171 536h1M1173 536h1M1175 536h1M1177 536h2M1182 536h2M1185 536h4M1193 536h1M1195 536h1M1197 536h1M1199 536h2M1202 536h1M1211 536h4M1216 536h1M1220 536h2M1223 536h3M1227 536h1M1233 536h1M1236 536h2M1239 536h1M1242 536h2M1248 536h1M1250 536h2M1254 536h1M1256 536h2M1259 536h1M1262 536h2M1265 536h4M1272 536h1M1274 536h1M1278 536h1M1282 536h1M1285 536h1M1291 536h1M1294 536h1M1296 536h1M1298 536h1M1305 536h1M1309 536h2M1313 536h3M1318 536h1M1324 536h1M1327 536h1M1329 536h1M1331 536h1M1333 536h1M1336 536h1M1338 536h1M1340 536h2M1345 536h1M1350 536h3M1355 536h1M1357 536h1M1359 536h1M1362 536h1M1364 536h1M1367 536h1M427 529h1M738 529h1M809 528h1M1187 522h1M1266 530h1M1267 531h1"/>
</g>
<g fill="none" stroke="#0072B2" stroke-width="1.25">
<circle cx="96.5" cy="458.3" r="5.1"/><path stroke-width="1" d="M91.0 458.3h-1M102.0 458.3h1M96.5 452.8v-1M96.5 463.8v1"/>
<circle cx="143.3" cy="511.5" r="5.1"/><path stroke-width="1" d="M137.8 511.5h-1M148.8 511.5h1M143.3 506.0v-1M143.3 517.0v1"/>
<circle cx="202.3" cy="515.2" r="5.1"/><path stroke-width="1" d="M196.8 515.2h-1M207.8 515.2h1M202.3 509.7v-1M202.3 520.7v1"/>
<circle cx="249.1" cy="513.3" r="5.1"/><path stroke-width="1" d="M243.6 513.3h-1M254.6 513.3h1M249.1 507.8v-1M249.1 518.8v1"/>
<circle cx="255.5" cy="514.2" r="5.1"/><path stroke-width="1" d="M250.0 514.2h-1M261.0 514.2h1M255.5 508.7v-1M255.5 519.7v1"/>
<circle cx="302.4" cy="515.2" r="5.1"/><path stroke-width="1" d="M296.9 515.2h-1M307.9 515.2h1M302.4 509.7v-1M302.4 520.7v1"/>
<circle cx="308.8" cy="513.0" r="5.1"/><path stroke-width="1" d="M303.3 513.0h-1M314.3 513.0h1M308.8 507.5v-1M308.8 518.5v1"/>
<circle cx="355.2" cy="515.2" r="5.1"/><path stroke-width="1" d="M349.7 515.2h-1M360.7 515.2h1M355.2 509.7v-1M355.2 520.7v1"/>
<circle cx="362.0" cy="513.0" r="5.1"/><path stroke-width="1" d="M356.5 513.0h-1M367.5 513.0h1M362.0 507.5v-1M362.0 518.5v1"/>
<circle cx="408.4" cy="500.1" r="5.1"/><path stroke-width="1" d="M402.9 500.1h-1M413.9 500.1h1M408.4 494.6v-1M408.4 505.6v1"/>
<circle cx="415.5" cy="514.2" r="5.1"/><path stroke-width="1" d="M410.0 514.2h-1M421.0 514.2h1M415.5 508.7v-1M415.5 519.7v1"/>
<circle cx="461.4" cy="513.0" r="5.1"/><path stroke-width="1" d="M455.9 513.0h-1M466.9 513.0h1M461.4 507.5v-1M461.4 518.5v1"/>
<circle cx="468.3" cy="514.2" r="5.1"/><path stroke-width="1" d="M462.8 514.2h-1M473.8 514.2h1M468.3 508.7v-1M468.3 519.7v1"/>
<circle cx="515.2" cy="515.2" r="5.1"/><path stroke-width="1" d="M509.7 515.2h-1M520.7 515.2h1M515.2 509.7v-1M515.2 520.7v1"/>
<circle cx="521.7" cy="513.0" r="5.1"/><path stroke-width="1" d="M516.2 513.0h-1M527.2 513.0h1M521.7 507.5v-1M521.7 518.5v1"/>
<circle cx="568.4" cy="512.4" r="5.1"/><path stroke-width="1" d="M562.9 512.4h-1M573.9 512.4h1M568.4 506.9v-1M568.4 517.9v1"/>
<circle cx="574.5" cy="521.0" r="5.1"/><path stroke-width="1" d="M569.0 521.0h-1M580.0 521.0h1M574.5 515.5v-1M574.5 526.5v1"/>
<circle cx="621.6" cy="514.2" r="5.1"/><path stroke-width="1" d="M616.1 514.2h-1M627.1 514.2h1M621.6 508.7v-1M621.6 519.7v1"/>
<circle cx="627.6" cy="514.2" r="5.1"/><path stroke-width="1" d="M622.1 514.2h-1M633.1 514.2h1M627.6 508.7v-1M627.6 519.7v1"/>
<circle cx="674.2" cy="515.2" r="5.1"/><path stroke-width="1" d="M668.7 515.2h-1M679.7 515.2h1M674.2 509.7v-1M674.2 520.7v1"/>
<circle cx="679.9" cy="499.2" r="5.1"/><path stroke-width="1" d="M674.4 499.2h-1M685.4 499.2h1M679.9 493.7v-1M679.9 504.7v1"/>
<circle cx="727.5" cy="512.4" r="5.1"/><path stroke-width="1" d="M722.0 512.4h-1M733.0 512.4h1M727.5 506.9v-1M727.5 517.9v1"/>
<circle cx="733.6" cy="510.2" r="5.1"/><path stroke-width="1" d="M728.1 510.2h-1M739.1 510.2h1M733.6 504.7v-1M733.6 515.7v1"/>
<circle cx="780.3" cy="513.3" r="5.1"/><path stroke-width="1" d="M774.8 513.3h-1M785.8 513.3h1M780.3 507.8v-1M780.3 518.8v1"/>
<circle cx="786.4" cy="514.2" r="5.1"/><path stroke-width="1" d="M780.9 514.2h-1M791.9 514.2h1M786.4 508.7v-1M786.4 519.7v1"/>
<circle cx="833.5" cy="514.2" r="5.1"/><path stroke-width="1" d="M828.0 514.2h-1M839.0 514.2h1M833.5 508.7v-1M833.5 519.7v1"/>
<circle cx="840.5" cy="513.3" r="5.1"/><path stroke-width="1" d="M835.0 513.3h-1M846.0 513.3h1M840.5 507.8v-1M840.5 518.8v1"/>
<circle cx="886.8" cy="514.2" r="5.1"/><path stroke-width="1" d="M881.3 514.2h-1M892.3 514.2h1M886.8 508.7v-1M886.8 519.7v1"/>
<circle cx="893.2" cy="512.4" r="5.1"/><path stroke-width="1" d="M887.7 512.4h-1M898.7 512.4h1M893.2 506.9v-1M893.2 517.9v1"/>
<circle cx="940.5" cy="468.4" r="5.1"/><path stroke-width="1" d="M935.0 468.4h-1M946.0 468.4h1M940.5 462.9v-1M940.5 473.9v1"/>
<circle cx="946.4" cy="499.2" r="5.1"/><path stroke-width="1" d="M940.9 499.2h-1M951.9 499.2h1M946.4 493.7v-1M946.4 504.7v1"/>
<circle cx="993.5" cy="495.4" r="5.1"/><path stroke-width="1" d="M988.0 495.4h-1M999.0 495.4h1M993.5 489.9v-1M993.5 500.9v1"/>
<circle cx="999.6" cy="512.4" r="5.1"/><path stroke-width="1" d="M994.1 512.4h-1M1005.1 512.4h1M999.6 506.9v-1M999.6 517.9v1"/>
<circle cx="1046.3" cy="514.2" r="5.1"/><path stroke-width="1" d="M1040.8 514.2h-1M1051.8 514.2h1M1046.3 508.7v-1M1046.3 519.7v1"/>
<circle cx="1052.4" cy="499.2" r="5.1"/><path stroke-width="1" d="M1046.9 499.2h-1M1057.9 499.2h1M1052.4 493.7v-1M1052.4 504.7v1"/>
<circle cx="1099.3" cy="515.2" r="5.1"/><path stroke-width="1" d="M1093.8 515.2h-1M1104.8 515.2h1M1099.3 509.7v-1M1099.3 520.7v1"/>
<circle cx="1105.5" cy="514.2" r="5.1"/><path stroke-width="1" d="M1100.0 514.2h-1M1111.0 514.2h1M1105.5 508.7v-1M1105.5 519.7v1"/>
<circle cx="1152.5" cy="514.2" r="5.1"/><path stroke-width="1" d="M1147.0 514.2h-1M1158.0 514.2h1M1152.5 508.7v-1M1152.5 519.7v1"/>
<circle cx="1158.3" cy="494.4" r="5.1"/><path stroke-width="1" d="M1152.8 494.4h-1M1163.8 494.4h1M1158.3 488.9v-1M1158.3 499.9v1"/>
<circle cx="1205.1" cy="514.2" r="5.1"/><path stroke-width="1" d="M1199.6 514.2h-1M1210.6 514.2h1M1205.1 508.7v-1M1205.1 519.7v1"/>
<circle cx="1211.5" cy="512.4" r="5.1"/><path stroke-width="1" d="M1206.0 512.4h-1M1217.0 512.4h1M1211.5 506.9v-1M1211.5 517.9v1"/>
<circle cx="1258.2" cy="512.4" r="5.1"/><path stroke-width="1" d="M1252.7 512.4h-1M1263.7 512.4h1M1258.2 506.9v-1M1258.2 517.9v1"/>
<circle cx="1265.6" cy="509.3" r="5.1"/><path stroke-width="1" d="M1260.1 509.3h-1M1271.1 509.3h1M1265.6 503.8v-1M1265.6 514.8v1"/>
<circle cx="1311.5" cy="509.3" r="5.1"/><path stroke-width="1" d="M1306.0 509.3h-1M1317.0 509.3h1M1311.5 503.8v-1M1311.5 514.8v1"/>
<circle cx="1318.2" cy="513.0" r="5.1"/><path stroke-width="1" d="M1312.7 513.0h-1M1323.7 513.0h1M1318.2 507.5v-1M1318.2 518.5v1"/>
<circle cx="1365.5" cy="493.5" r="5.1"/><path stroke-width="1" d="M1360.0 493.5h-1M1371.0 493.5h1M1365.5 488.0v-1M1365.5 499.0v1"/>
</g>
<g fill="#E51E10" stroke="#E51E10" stroke-width="1">
<circle cx="96.5" cy="539.5" r="5.7" stroke="none"/><path stroke-width="1" d="M91.0 539.5h-1M102.0 539.5h1M96.5 534.0v-1M96.5 545.0v1"/>
<circle cx="143.3" cy="539.5" r="5.7" stroke="none"/><path stroke-width="1" d="M137.8 539.5h-1M148.8 539.5h1M143.3 534.0v-1M143.3 545.0v1"/>
<circle cx="202.3" cy="539.5" r="5.7" stroke="none"/><path stroke-width="1" d="M196.8 539.5h-1M207.8 539.5h1M202.3 534.0v-1M202.3 545.0v1"/>
<circle cx="249.1" cy="534.4" r="5.7" stroke="none"/><path stroke-width="1" d="M243.6 534.4h-1M254.6 534.4h1M249.1 528.9v-1M249.1 539.9v1"/>
<circle cx="255.5" cy="539.5" r="5.7" stroke="none"/><path stroke-width="1" d="M250.0 539.5h-1M261.0 539.5h1M255.5 534.0v-1M255.5 545.0v1"/>
<circle cx="302.4" cy="539.5" r="5.7" stroke="none"/><path stroke-width="1" d="M296.9 539.5h-1M307.9 539.5h1M302.4 534.0v-1M302.4 545.0v1"/>
<circle cx="308.8" cy="539.5" r="5.7" stroke="none"/><path stroke-width="1" d="M303.3 539.5h-1M314.3 539.5h1M308.8 534.0v-1M308.8 545.0v1"/>
<rect x="302.4" y="533.8" width="6.4" height="11.4" stroke="none"/>
<circle cx="355.2" cy="539.5" r="5.7" stroke="none"/><path stroke-width="1" d="M349.7 539.5h-1M360.7 539.5h1M355.2 534.0v-1M355.2 545.0v1"/>
<circle cx="362.0" cy="539.5" r="5.7" stroke="none"/><path stroke-width="1" d="M356.5 539.5h-1M367.5 539.5h1M362.0 534.0v-1M362.0 545.0v1"/>
<rect x="355.2" y="533.8" width="6.8" height="11.4" stroke="none"/>
<circle cx="408.4" cy="539.5" r="5.7" stroke="none"/><path stroke-width="1" d="M402.9 539.5h-1M413.9 539.5h1M408.4 534.0v-1M408.4 545.0v1"/>
<circle cx="415.5" cy="539.5" r="5.7" stroke="none"/><path stroke-width="1" d="M410.0 539.5h-1M421.0 539.5h1M415.5 534.0v-1M415.5 545.0v1"/>
<rect x="408.4" y="533.8" width="7.1" height="11.4" stroke="none"/>
<circle cx="461.4" cy="539.5" r="5.7" stroke="none"/><path stroke-width="1" d="M455.9 539.5h-1M466.9 539.5h1M461.4 534.0v-1M461.4 545.0v1"/>
<circle cx="468.3" cy="539.5" r="5.7" stroke="none"/><path stroke-width="1" d="M462.8 539.5h-1M473.8 539.5h1M468.3 534.0v-1M468.3 545.0v1"/>
<rect x="461.4" y="533.8" width="6.9" height="11.4" stroke="none"/>
<circle cx="515.2" cy="539.5" r="5.7" stroke="none"/><path stroke-width="1" d="M509.7 539.5h-1M520.7 539.5h1M515.2 534.0v-1M515.2 545.0v1"/>
<circle cx="521.7" cy="539.5" r="5.7" stroke="none"/><path stroke-width="1" d="M516.2 539.5h-1M527.2 539.5h1M521.7 534.0v-1M521.7 545.0v1"/>
<rect x="515.2" y="533.8" width="6.5" height="11.4" stroke="none"/>
<circle cx="568.4" cy="539.5" r="5.7" stroke="none"/><path stroke-width="1" d="M562.9 539.5h-1M573.9 539.5h1M568.4 534.0v-1M568.4 545.0v1"/>
<circle cx="574.5" cy="539.5" r="5.7" stroke="none"/><path stroke-width="1" d="M569.0 539.5h-1M580.0 539.5h1M574.5 534.0v-1M574.5 545.0v1"/>
<rect x="568.4" y="533.8" width="6.1" height="11.4" stroke="none"/>
<circle cx="621.6" cy="534.4" r="5.7" stroke="none"/><path stroke-width="1" d="M616.1 534.4h-1M627.1 534.4h1M621.6 528.9v-1M621.6 539.9v1"/>
<circle cx="627.6" cy="539.5" r="5.7" stroke="none"/><path stroke-width="1" d="M622.1 539.5h-1M633.1 539.5h1M627.6 534.0v-1M627.6 545.0v1"/>
<circle cx="674.2" cy="534.4" r="5.7" stroke="none"/><path stroke-width="1" d="M668.7 534.4h-1M679.7 534.4h1M674.2 528.9v-1M674.2 539.9v1"/>
<circle cx="679.9" cy="539.5" r="5.7" stroke="none"/><path stroke-width="1" d="M674.4 539.5h-1M685.4 539.5h1M679.9 534.0v-1M679.9 545.0v1"/>
<circle cx="727.5" cy="539.5" r="5.7" stroke="none"/><path stroke-width="1" d="M722.0 539.5h-1M733.0 539.5h1M727.5 534.0v-1M727.5 545.0v1"/>
<circle cx="733.6" cy="539.5" r="5.7" stroke="none"/><path stroke-width="1" d="M728.1 539.5h-1M739.1 539.5h1M733.6 534.0v-1M733.6 545.0v1"/>
<rect x="727.5" y="533.8" width="6.1" height="11.4" stroke="none"/>
<circle cx="780.3" cy="539.5" r="5.7" stroke="none"/><path stroke-width="1" d="M774.8 539.5h-1M785.8 539.5h1M780.3 534.0v-1M780.3 545.0v1"/>
<circle cx="786.4" cy="539.5" r="5.7" stroke="none"/><path stroke-width="1" d="M780.9 539.5h-1M791.9 539.5h1M786.4 534.0v-1M786.4 545.0v1"/>
<rect x="780.3" y="533.8" width="6.1" height="11.4" stroke="none"/>
<circle cx="833.5" cy="539.5" r="5.7" stroke="none"/><path stroke-width="1" d="M828.0 539.5h-1M839.0 539.5h1M833.5 534.0v-1M833.5 545.0v1"/>
<circle cx="840.5" cy="539.5" r="5.7" stroke="none"/><path stroke-width="1" d="M835.0 539.5h-1M846.0 539.5h1M840.5 534.0v-1M840.5 545.0v1"/>
<rect x="833.5" y="533.8" width="7.0" height="11.4" stroke="none"/>
<circle cx="886.8" cy="539.5" r="5.7" stroke="none"/><path stroke-width="1" d="M881.3 539.5h-1M892.3 539.5h1M886.8 534.0v-1M886.8 545.0v1"/>
<circle cx="893.2" cy="539.5" r="5.7" stroke="none"/><path stroke-width="1" d="M887.7 539.5h-1M898.7 539.5h1M893.2 534.0v-1M893.2 545.0v1"/>
<rect x="886.8" y="533.8" width="6.4" height="11.4" stroke="none"/>
<circle cx="940.5" cy="539.5" r="5.7" stroke="none"/><path stroke-width="1" d="M935.0 539.5h-1M946.0 539.5h1M940.5 534.0v-1M940.5 545.0v1"/>
<circle cx="946.4" cy="539.5" r="5.7" stroke="none"/><path stroke-width="1" d="M940.9 539.5h-1M951.9 539.5h1M946.4 534.0v-1M946.4 545.0v1"/>
<rect x="940.5" y="533.8" width="5.9" height="11.4" stroke="none"/>
<circle cx="993.5" cy="534.4" r="5.7" stroke="none"/><path stroke-width="1" d="M988.0 534.4h-1M999.0 534.4h1M993.5 528.9v-1M993.5 539.9v1"/>
<circle cx="999.6" cy="539.5" r="5.7" stroke="none"/><path stroke-width="1" d="M994.1 539.5h-1M1005.1 539.5h1M999.6 534.0v-1M999.6 545.0v1"/>
<circle cx="1046.3" cy="533.1" r="5.7" stroke="none"/><path stroke-width="1" d="M1040.8 533.1h-1M1051.8 533.1h1M1046.3 527.6v-1M1046.3 538.6v1"/>
<circle cx="1052.4" cy="539.5" r="5.7" stroke="none"/><path stroke-width="1" d="M1046.9 539.5h-1M1057.9 539.5h1M1052.4 534.0v-1M1052.4 545.0v1"/>
<circle cx="1099.3" cy="539.5" r="5.7" stroke="none"/><path stroke-width="1" d="M1093.8 539.5h-1M1104.8 539.5h1M1099.3 534.0v-1M1099.3 545.0v1"/>
<circle cx="1105.5" cy="539.5" r="5.7" stroke="none"/><path stroke-width="1" d="M1100.0 539.5h-1M1111.0 539.5h1M1105.5 534.0v-1M1105.5 545.0v1"/>
<rect x="1099.3" y="533.8" width="6.2" height="11.4" stroke="none"/>
<circle cx="1152.5" cy="539.5" r="5.7" stroke="none"/><path stroke-width="1" d="M1147.0 539.5h-1M1158.0 539.5h1M1152.5 534.0v-1M1152.5 545.0v1"/>
<circle cx="1158.3" cy="539.5" r="5.7" stroke="none"/><path stroke-width="1" d="M1152.8 539.5h-1M1163.8 539.5h1M1158.3 534.0v-1M1158.3 545.0v1"/>
<rect x="1152.5" y="533.8" width="5.8" height="11.4" stroke="none"/>
<circle cx="1205.1" cy="539.5" r="5.7" stroke="none"/><path stroke-width="1" d="M1199.6 539.5h-1M1210.6 539.5h1M1205.1 534.0v-1M1205.1 545.0v1"/>
<circle cx="1211.5" cy="539.5" r="5.7" stroke="none"/><path stroke-width="1" d="M1206.0 539.5h-1M1217.0 539.5h1M1211.5 534.0v-1M1211.5 545.0v1"/>
<rect x="1205.1" y="533.8" width="6.4" height="11.4" stroke="none"/>
<circle cx="1258.2" cy="539.5" r="5.7" stroke="none"/><path stroke-width="1" d="M1252.7 539.5h-1M1263.7 539.5h1M1258.2 534.0v-1M1258.2 545.0v1"/>
<circle cx="1265.6" cy="539.5" r="5.7" stroke="none"/><path stroke-width="1" d="M1260.1 539.5h-1M1271.1 539.5h1M1265.6 534.0v-1M1265.6 545.0v1"/>
<rect x="1258.2" y="533.8" width="7.4" height="11.4" stroke="none"/>
<circle cx="1311.5" cy="539.5" r="5.7" stroke="none"/><path stroke-width="1" d="M1306.0 539.5h-1M1317.0 539.5h1M1311.5 534.0v-1M1311.5 545.0v1"/>
<circle cx="1318.2" cy="539.5" r="5.7" stroke="none"/><path stroke-width="1" d="M1312.7 539.5h-1M1323.7 539.5h1M1318.2 534.0v-1M1318.2 545.0v1"/>
<rect x="1311.5" y="533.8" width="6.7" height="11.4" stroke="none"/>
<circle cx="1365.5" cy="539.5" r="5.7" stroke="none"/><path stroke-width="1" d="M1360.0 539.5h-1M1371.0 539.5h1M1365.5 534.0v-1M1365.5 545.0v1"/>
</g>
<path fill="none" stroke="#000" stroke-width="1" shape-rendering="crispEdges" d="M639.5 456.5L647.5 468.5H631.5ZM1141.5 456.5L1149.5 468.5H1133.5ZM1182.5 456.5L1190.5 468.5H1174.5Z"/>
<g fill="none" stroke="#000" stroke-width="1" shape-rendering="crispEdges">
<path d="M94.5 57.5H1369.5V539.5H94.5Z"/>
<path d="M94.5 539.5h6.5M1369.5 539.5h-6.5M94.5 422.5h6.5M1369.5 422.5h-6.5M94.5 304.5h6.5M1369.5 304.5h-6.5M94.5 186.5h6.5M1369.5 186.5h-6.5M94.5 69.5h6.5M1369.5 69.5h-6.5M94.5 57.5v5.5M147.5 57.5v5.5M200.5 57.5v5.5M253.5 57.5v5.5M306.5 57.5v5.5M360.5 57.5v5.5M413.5 57.5v5.5M466.5 57.5v5.5M519.5 57.5v5.5M572.5 57.5v5.5M625.5 57.5v5.5M678.5 57.5v5.5M732.5 57.5v5.5M785.5 57.5v5.5M838.5 57.5v5.5M891.5 57.5v5.5M944.5 57.5v5.5M997.5 57.5v5.5M1050.5 57.5v5.5M1103.5 57.5v5.5M1156.5 57.5v5.5M1210.5 57.5v5.5M1263.5 57.5v5.5M1316.5 57.5v5.5M1369.5 57.5v5.5"/>
</g>
<g fill="#E51E10" stroke="#E51E10" stroke-width="1">
</g>
<text x="470.5" y="31.7" textLength="518" lengthAdjust="spacing" style="white-space:pre">pi20 Jun 04  near/far ICMP/TCP ping and curl times [No msmt 1AM-2AM]</text>
<text x="373.6" y="590" textLength="712">&lt;-START at 2AM Yday, right to 12AM Tday-&gt;, then wrap left to 1AM Tday&lt;- [ignore connecting lines]</text>
<text transform="translate(17.3 317.5) rotate(-90)">msec</text>
<text class="e" x="80.6" y="543.0">0</text>
<text class="e" x="80.6" y="425.5">500</text>
<text class="e" x="80.6" y="308.0">1000</text>
<text class="e" x="80.6" y="190.5">1500</text>
<text class="e" x="80.6" y="73.0">2000</text>
<text class="m" x="91.5" y="561.7">00:00</text>
<text class="m" x="197.8" y="561.7">02:00</text>
<text class="m" x="305.0" y="561.7">04:00</text>
<text class="m" x="410.2" y="561.7">06:00</text>
<text class="m" x="516.5" y="561.7">08:00</text>
<text class="m" x="623.4" y="561.7">10:00</text>
<text class="m" x="730.6" y="561.7">12:00</text>
<text class="m" x="836.8" y="561.7">14:00</text>
<text class="m" x="943.2" y="561.7">16:00</text>
<text class="m" x="1048.3" y="561.7">18:00</text>
<text class="m" x="1155.0" y="561.7">20:00</text>
<text class="m" x="1261.2" y="561.7">22:00</text>
<text class="m" x="1366.5" y="561.7">00:00</text>
<text class="b" x="123.0" y="80.0" textLength="84.0">GENERAL:</text>
<text x="120.0" y="99.7" textLength="541.2">near ICMP[ping] delays -Ypingresult.txt last hour target 72.31.3.7 hop#3 ---&gt;</text>
<text x="120.0" y="118.9" textLength="411.4">TCP ping delays -YTimetcpping.txt- using Top100Web---&gt;</text>
<text x="120.0" y="138.1" textLength="484.5">deep ICMP[ping] delays -YCustPingSiteTimes.txt- [X generic rpi]---&gt;</text>
<text x="120.0" y="157.2" textLength="397.9">web curl times -Ycurltime.txt- using www.msnbc.com---&gt;</text>
<text x="120.0" y="176.4" textLength="500.6">DNS query times -Ycurldnstime.txt- using router? 192.168.254.254---&gt;</text>
<text x="120.0" y="195.6" textLength="308.1">Hyperping timeouts -YHPpingresult.txt- ---&gt;</text>
<text x="120.0" y="214.8" textLength="248.3">Last rpi boot: 2024-06-01 01:17:24</text>
<text x="204.2" y="234.9" textLength="432.0">-DNS query, web curl are twice/hr, beginnng and end of hour</text>
<text x="204.2" y="254.0" textLength="486.0">-near,deep ICMP pings are once/min until timeout[1000 msec], then:</text>
<text x="213.2" y="273.2" textLength="460.3">-Hyperpings [6/min] initiated; [vertical stacked] ticks are timeouts</text>
<text x="204.2" y="292.4" textLength="429.6">-TCP pings are once/min [if plotted][use Ytcpoff for timeouts]</text>
<text class="b" x="123.2" y="320.8" textLength="100.4">ANOMALIES:</text>
<text x="209.1" y="340.8" textLength="183.3">(850)PingTarget is router!</text>
<text x="209.1" y="360.1" textLength="121.7">(785)ipv6 failure!</text>
<text x="209.1" y="379.3" textLength="225.9">(500+)Hyperping Timeouts ----&gt;</text>
<text x="209.1" y="398.6" textLength="237.3">(1000)Near ICMP Timeout spikes</text>
<text x="209.1" y="417.8" textLength="218.3">(550)Ping Target Changes ---&gt;</text>
<text x="209.1" y="437.1" textLength="200.4">(450)OFFLINE STATE -----&gt;</text>
<text x="209.1" y="456.3" textLength="219.9">(400)Reboot/powercycle? ----&gt;</text>
<text x="209.1" y="475.6" textLength="225.3">(320)Deep ICMP Timeouts ----&gt;</text>
<text x="209.1" y="494.8" textLength="215.7">(220)TCP ping Timeouts -----&gt;</text>
<g fill="none" stroke-width="1" shape-rendering="crispEdges">
<path stroke="#56B4E9" d="M192.5 328.5H208.5L200.5 340.5Z"/>
<path stroke="#E69F00" d="M192.5 347.5H208.5L200.5 359.5Z"/>
<path stroke="#009E73" d="M194 371.5h13M200.5 365v13"/>
<path stroke="#9400D3" fill="#9400D3" d="M200.5 402.5L208.5 414.5H192.5Z"/>
<rect stroke="#E69F00" x="194.5" y="427.5" width="12" height="12"/>
<path stroke="#000" d="M200.5 456.5L208.5 468.5H192.5Z"/>
<rect fill="#F0E442" stroke="none" x="194" y="481" width="13" height="13"/>
</g>
<g fill="#F0E442" shape-rendering="crispEdges">
<rect x="346" y="481" width="13" height="13"/>
<rect x="761" y="481" width="13" height="13"/>
<rect x="777" y="481" width="13" height="13"/>
<rect x="1030" y="481" width="13" height="13"/>
<rect x="1299" y="481" width="13" height="13"/>
</g>
<text class="e" x="1290.3" y="76.8">"Ypingresult.txt" using 1:2</text>
<text class="e" x="1290.3" y="95.8">"YTimetcpping.txt" using 1:2</text>
<text class="e" x="1290.3" y="114.9">"YCustPingSiteTimes.txt" using 1:2</text>
<text class="e" x="1290.3" y="133.9">"Yofflineresult.txt" using 1:2</text>
<text class="e" x="1290.3" y="152.9">"Ytcpoff_record.txt" using 1:2</text>
<text class="e" x="1290.3" y="172.0">"Ycurltime.txt" using 1:2</text>
<text class="e" x="1290.3" y="191.0">"Ycurldnstime.txt" using 1:2</text>
<text class="e" x="1290.3" y="210.0">"YCustPingTimeout.txt" using 1:2</text>
<text class="e" x="1290.3" y="229.0">"Ypingtargetchange" using 1:2</text>
<text class="e" x="1290.3" y="248.1">"YHPpingresult.txt" using 1:2</text>
<text class="e" x="1290.3" y="267.1">"YpingtargetISrouter" using 1:2</text>
<text class="e" x="1290.3" y="286.1">"Ynoipv6" using 1:2</text>
<g fill="none" stroke-width="1" shape-rendering="crispEdges">
<path stroke="#9400D3" d="M1303 73.5H1350"/>
<path stroke="#009E73" d="M1303 92.5H1350"/>
<path stroke="#56B4E9" d="M1303 111.5H1350"/>
<rect stroke="#E69F00" x="1320.5" y="124.5" width="12" height="12"/>
<rect fill="#F0E442" stroke="none" x="1320" y="143" width="13" height="13"/>
<path stroke="#009E73" d="M1320 244.5h13M1326.5 238v13"/>
</g>
<g fill="none" stroke="#0072B2" stroke-width="1.25"><circle cx="1326.5" cy="168.5" r="5.1"/><path stroke-width="1" d="M1321.0 168.5h-1M1332.0 168.5h1M1326.5 163.0v-1M1326.5 174.0v1"/></g>
<g fill="#E51E10" stroke="#E51E10" stroke-width="1"><circle cx="1326.5" cy="187.5" r="5.7" stroke="none"/><path stroke-width="1" d="M1321.0 187.5h-1M1332.0 187.5h1M1326.5 182.0v-1M1326.5 193.0v1"/></g>
<g fill="none" stroke-width="1" shape-rendering="crispEdges">
<path stroke="#000" d="M1326.5 198.5L1334.5 210.5H1318.5Z"/>
<path stroke="#9400D3" fill="#9400D3" d="M1326.5 217.5L1334.5 229.5H1318.5Z"/>
<path stroke="#56B4E9" d="M1318.5 259.5H1334.5L1326.5 271.5Z"/>
<path stroke="#E69F00" d="M1318.5 278.5H1334.5L1326.5 290.5Z"/>
</g>
</svg></body></html>
